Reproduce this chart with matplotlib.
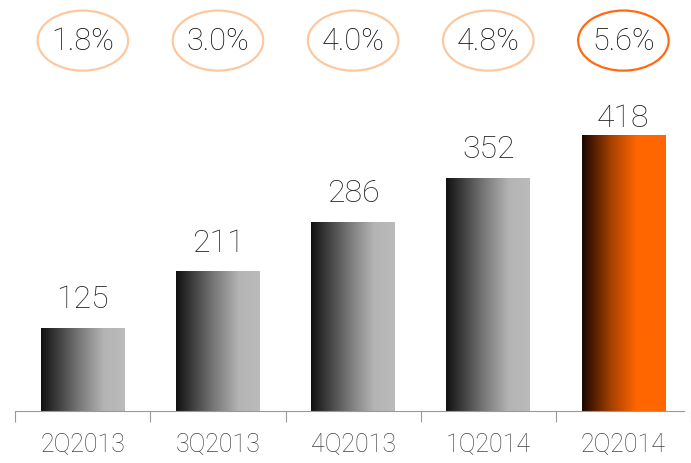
import matplotlib
matplotlib.use("Agg")
import matplotlib.pyplot as plt
import numpy as np
from matplotlib.colors import LinearSegmentedColormap
from matplotlib.patches import Ellipse

# Data
quarters = ["2Q2013", "3Q2013", "4Q2013", "1Q2014", "2Q2014"]
values = [125, 211, 286, 352, 418]
shares = ["1.8%", "3.0%", "4.0%", "4.8%", "5.6%"]

plt.rcParams["font.family"] = ["Roboto", "DejaVu Sans"]

fig = plt.figure(figsize=(6.91, 4.64), dpi=100)
ax = fig.add_axes([0, 52 / 464, 1, 412 / 464])
ax.set_xlim(-0.613, 4.445)
ax.set_ylim(0, 624)

gray_cmap = LinearSegmentedColormap.from_list(
    "g", [(0, "#111111"), (0.45, "#777777"), (0.75, "#b4b4b4"), (1, "#bbbbbb")])
orange_cmap = LinearSegmentedColormap.from_list(
    "o", [(0, "#1a0600"), (0.35, "#a84000"), (0.65, "#ff6600"), (1, "#ff6600")])
grad = np.linspace(0, 1, 256).reshape(1, -1)

x = np.arange(len(quarters))
width = 0.62
bars = ax.bar(x, values, width=width, color="none", edgecolor="none")
for i, b in enumerate(bars):
    last = i == len(bars) - 1
    cmap = orange_cmap if last else gray_cmap
    x0 = b.get_x()
    ax.imshow(grad, extent=[x0, x0 + b.get_width(), 0, b.get_height()],
              aspect="auto", cmap=cmap, zorder=2)
    # last label sits tighter, under the ellipses
    gap = 13 if last else 32
    ax.text(b.get_x() + b.get_width() / 2, b.get_height() + gap, str(values[i]),
            ha="center", va="baseline", fontsize=23, color="#222222",
            fontweight="light")

# share ellipses
for i, s in enumerate(shares):
    ec = "#ff6a10" if i == len(shares) - 1 else "#fdc89e"
    ax.add_patch(Ellipse((x[i], 561), 0.67, 91, facecolor="none",
                         edgecolor=ec, linewidth=1.6, clip_on=False))
    ax.text(x[i], 561, s, ha="center", va="center", fontsize=22,
            color="#111111", fontweight="light")

for sp in ["top", "right", "left"]:
    ax.spines[sp].set_visible(False)
ax.spines["bottom"].set_color("#999999")
ax.spines["bottom"].set_bounds(-0.5, 4.445)
ax.set_yticks([])
ax.set_xticks(np.arange(-0.5, 5, 1))
ax.set_xticklabels([])
ax.tick_params(axis="x", which="major", length=8, color="#999999")
ax.set_xticks(x, minor=True)
ax.set_xticklabels(quarters, minor=True, fontsize=18, color="#444444",
                   fontweight="light")
ax.tick_params(axis="x", which="minor", length=0, pad=15)

fig.savefig("out.png", dpi=100)
